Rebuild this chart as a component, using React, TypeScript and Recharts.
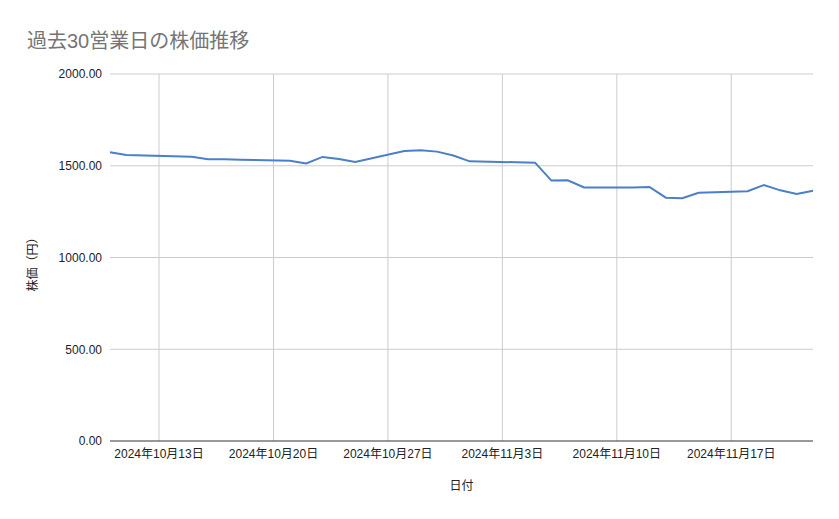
import { LineChart, Line, XAxis, YAxis, ReferenceLine } from "recharts";

// 営業日（10/14・11/4は祝日で休場）
const dates = [
  "2024-10-10", "2024-10-11",
  "2024-10-15", "2024-10-16", "2024-10-17", "2024-10-18",
  "2024-10-21", "2024-10-22", "2024-10-23", "2024-10-24", "2024-10-25",
  "2024-10-28", "2024-10-29", "2024-10-30", "2024-10-31", "2024-11-01",
  "2024-11-05", "2024-11-06", "2024-11-07", "2024-11-08",
  "2024-11-11", "2024-11-12", "2024-11-13", "2024-11-14", "2024-11-15",
  "2024-11-18", "2024-11-19", "2024-11-20", "2024-11-21", "2024-11-22",
];

const prices = [
  1573, 1558,
  1549, 1535, 1536, 1533,
  1527, 1513, 1548, 1537, 1520,
  1580, 1584, 1577, 1556, 1524,
  1517, 1419, 1421, 1382,
  1381, 1384, 1326, 1323, 1353,
  1361, 1395, 1366, 1346, 1364,
];

const xDomain = ["2024-10-10", "2024-11-22"];
const xTicks = ["2024-10-13", "2024-10-20", "2024-10-27", "2024-11-03", "2024-11-10", "2024-11-17"];
const yTicks = [0, 500, 1000, 1500, 2000];

const toTime = (s: string) => {
  const [y, m, d] = s.split("-").map(Number);
  return Date.UTC(y, m - 1, d);
};

const formatDate = (t: number) => {
  const d = new Date(t);
  return `${d.getUTCFullYear()}年${d.getUTCMonth() + 1}月${d.getUTCDate()}日`;
};

const FONT = "'Liberation Sans', Arial, 'Noto Sans CJK JP', sans-serif";

const chartData = dates.map((d, i) => ({ t: toTime(d), price: prices[i] }));

function YLabel({ viewBox }: any) {
  const cx = 33;
  const cy = viewBox.y + viewBox.height / 2 + 4;
  return (
    <text
      x={cx}
      y={cy}
      transform={`rotate(-90, ${cx}, ${cy})`}
      textAnchor="middle"
      dominantBaseline="central"
      fontSize={12}
      fontFamily={FONT}
      fill="#222"
    >
      株価（円）
    </text>
  );
}

export default function App() {
  return (
    <div
      style={{
        position: "absolute",
        left: 0,
        top: 0,
        width: 839,
        height: 519,
        background: "#fff",
        fontFamily: FONT,
      }}
    >
      <div
        style={{
          position: "absolute",
          left: 27,
          top: 25,
          fontSize: 20,
          color: "#757575",
          fontFamily: FONT,
        }}
      >
        過去30営業日の株価推移
      </div>
      <LineChart
        width={839}
        height={519}
        data={chartData}
        margin={{ top: 74, right: 26, left: 30, bottom: 48 }}
      >
        {/* グリッドは目盛位置にだけ引く（プロット枠の縦線なし） */}
        {yTicks.slice(1).map((v) => (
          <ReferenceLine key={`y${v}`} y={v} stroke="#cccccc" />
        ))}
        {xTicks.map((s) => (
          <ReferenceLine key={s} x={toTime(s)} stroke="#cccccc" />
        ))}
        <XAxis
          dataKey="t"
          type="number"
          scale="time"
          domain={xDomain.map(toTime)}
          ticks={xTicks.map(toTime)}
          interval={0}
          tickFormatter={formatDate}
          height={30}
          tickLine={false}
          axisLine={{ stroke: "#333333" }}
          tick={{ fontSize: 12, fill: "#222", fontFamily: FONT }}
          label={{
            value: "日付",
            position: "bottom",
            offset: 10,
            fontSize: 12,
            fill: "#222",
            fontFamily: FONT,
          }}
        />
        <YAxis
          width={80}
          domain={[0, 2000]}
          ticks={yTicks}
          tickFormatter={(v: number) => v.toFixed(2)}
          tickLine={false}
          axisLine={false}
          tick={{ fontSize: 12, fill: "#222", fontFamily: FONT }}
          label={<YLabel />}
        />
        <Line
          type="linear"
          dataKey="price"
          stroke="#4a7fc9"
          strokeWidth={2}
          dot={false}
          isAnimationActive={false}
        />
      </LineChart>
    </div>
  );
}
